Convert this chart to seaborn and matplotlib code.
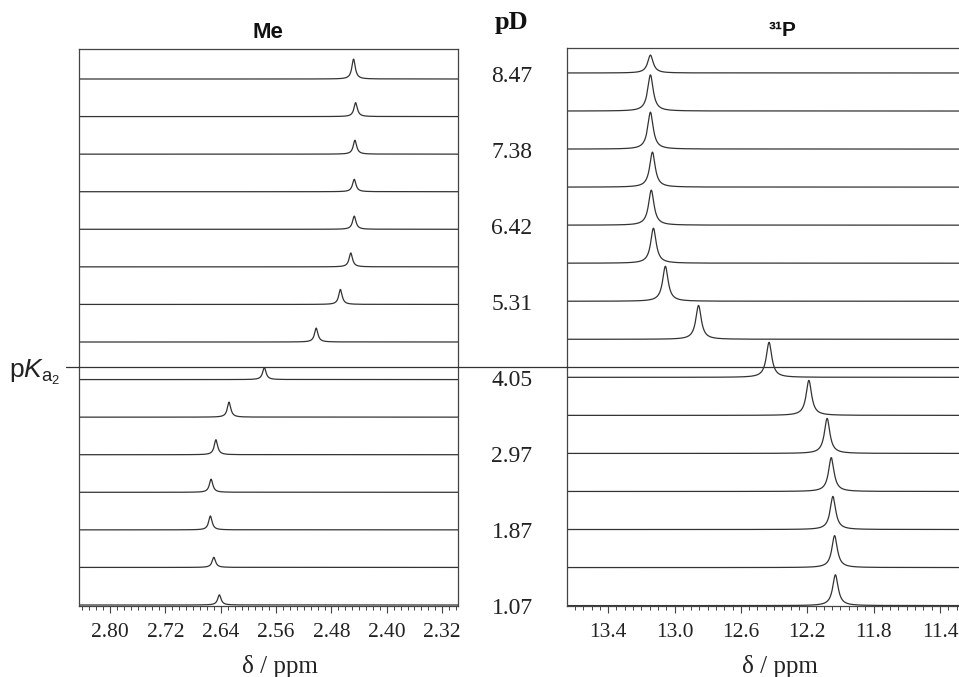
import numpy as np
import pandas as pd
import seaborn as sns
import matplotlib
matplotlib.use("Agg")
import matplotlib.pyplot as plt
from matplotlib import transforms
from matplotlib.lines import Line2D
from matplotlib.ticker import MultipleLocator, FixedLocator

# ---------------- data ----------------
# spectra listed from top (pD 8.47) to bottom (pD 1.07)
me_peak_ppm = [2.448, 2.445, 2.446, 2.447, 2.447, 2.452, 2.467, 2.502,
               2.577, 2.628, 2.647, 2.654, 2.655, 2.650, 2.642]
me_peak_height = [0.53, 0.37, 0.37, 0.33, 0.35, 0.37, 0.40, 0.37,
                  0.32, 0.40, 0.40, 0.35, 0.37, 0.27, 0.27]
p_peak_ppm = [13.145, 13.145, 13.145, 13.133, 13.140, 13.127, 13.055, 12.855,
              12.430, 12.190, 12.080, 12.055, 12.045, 12.035, 12.030]
p_peak_height = [0.47, 0.95, 0.97, 0.92, 0.92, 0.92, 0.92, 0.89,
                 0.92, 0.92, 0.92, 0.89, 0.87, 0.84, 0.81]
pd_labels = ["8.47", "7.38", "6.42", "5.31", "4.05", "2.97", "1.87", "1.07"]
pd_label_rows = [0, 2, 4, 6, 8, 10, 12, 14]
me_ticks = [2.80, 2.72, 2.64, 2.56, 2.48, 2.40, 2.32]
p_ticks = [13.4, 13.0, 12.6, 12.2, 11.8, 11.4]
pka_offset = 6.28          # stack offset (31P panel) of the pKa2 line

# ---------------- style ----------------
sns.set_theme(style="white")
plt.rcParams["font.family"] = ["Liberation Serif", "DejaVu Serif"]
plt.rcParams["mathtext.fontset"] = "custom"
plt.rcParams["mathtext.rm"] = "Liberation Sans"
plt.rcParams["mathtext.it"] = "Liberation Sans:italic"
INK = "#333333"

W, H = 959, 677
fig = plt.figure(figsize=(W / 100, H / 100), dpi=100)


def rect(l, t, r, b):
    return [l / W, 1 - b / H, (r - l) / W, (b - t) / H]


axL = fig.add_axes(rect(79, 49, 458, 606))
axR = fig.add_axes(rect(567, 48, 999, 606))

n = len(me_peak_ppm)
offsets = np.arange(n)[::-1].astype(float)


def build(pos, hts, lo, hi, gamma, npts):
    x = np.linspace(lo, hi, npts)
    rows = []
    for i, (x0, h) in enumerate(zip(pos, hts)):
        y = offsets[i] + h * gamma ** 2 / ((x - x0) ** 2 + gamma ** 2)
        rows.append(pd.DataFrame({"ppm": x, "y": y, "spec": i}))
    return pd.concat(rows, ignore_index=True)


dfL = build(me_peak_ppm, me_peak_height, 2.297, 2.845, 0.0030, 4000)
dfR = build(p_peak_ppm, p_peak_height, 11.044, 13.648, 0.020, 4000)

sns.lineplot(data=dfL, x="ppm", y="y", units="spec", estimator=None,
             color=INK, lw=0.9, ax=axL)
sns.lineplot(data=dfR, x="ppm", y="y", units="spec", estimator=None,
             color=INK, lw=0.9, ax=axR)

axL.set_xlim(2.845, 2.297)
axR.set_xlim(13.648, 11.044)
axL.set_ylim(-1 / 37.57, 14 + 30 / 37.57)
axR.set_ylim(-0.4 / 38.07, 14 + 25 / 38.07)
for ax in (axL, axR):
    ax.set_yticks([])
    ax.set_ylabel("")
    for s in ax.spines.values():
        s.set_color("#444444")
        s.set_linewidth(0.9)
    ax.tick_params(axis="x", which="major", bottom=True, direction="out",
                   length=5, width=0.8, color="#444444", labelsize=15.5,
                   pad=7, labelcolor="#222222")
    ax.tick_params(axis="x", which="minor", bottom=True, direction="out",
                   length=3, width=0.7, color="#444444")
    ax.set_xlabel("δ / ppm", fontsize=18, color="#222222")
    ax.xaxis.label.set_va("center")
axR.spines["right"].set_visible(False)

axL.xaxis.set_major_locator(FixedLocator(me_ticks))
axL.set_xticklabels([f"{t:.2f}" for t in me_ticks])
axL.xaxis.set_minor_locator(MultipleLocator(0.01))
axR.xaxis.set_major_locator(FixedLocator(p_ticks))
axR.set_xticklabels([f"{t:.1f}" for t in p_ticks])
axR.xaxis.set_minor_locator(MultipleLocator(0.05))

axL.xaxis.set_label_coords((280 - 79) / 379, (606 - 667) / 557)
axR.xaxis.set_label_coords((780 - 567) / 432, (606 - 667) / 558)

# titles
fig.text(268 / W, 1 - 33 / H, "Me", ha="center", va="center",
         fontsize=16, fontweight="bold", family="Liberation Sans", color="#111111")
fig.text(783 / W, 1 - 31 / H, "³¹P", ha="center", va="center",
         fontsize=15, fontweight="bold", family="Liberation Sans", color="#111111")
fig.text(512 / W, 1 - 22 / H, "pD", ha="center", va="center",
         fontsize=19, fontweight="bold", color="#111111")

# pD labels, aligned to the 31P spectrum baselines
trans = transforms.blended_transform_factory(fig.transFigure, axR.transData)
for lab, r in zip(pd_labels, pd_label_rows):
    fig.text(512 / W, offsets[r] - 0.08, lab, transform=trans,
             ha="center", va="center", fontsize=17, color="#222222")

# pKa2 line
fig.add_artist(Line2D([66 / W, 1.0], [pka_offset, pka_offset],
                      transform=trans, color=INK, lw=0.9))
fig.text(9 / W, pka_offset - 0.14, r"p$K_{\mathrm{a}_2}$", transform=trans,
         ha="left", va="center", fontsize=19, family="Liberation Sans",
         color="#222222")

fig.savefig("out.png", dpi=100)
